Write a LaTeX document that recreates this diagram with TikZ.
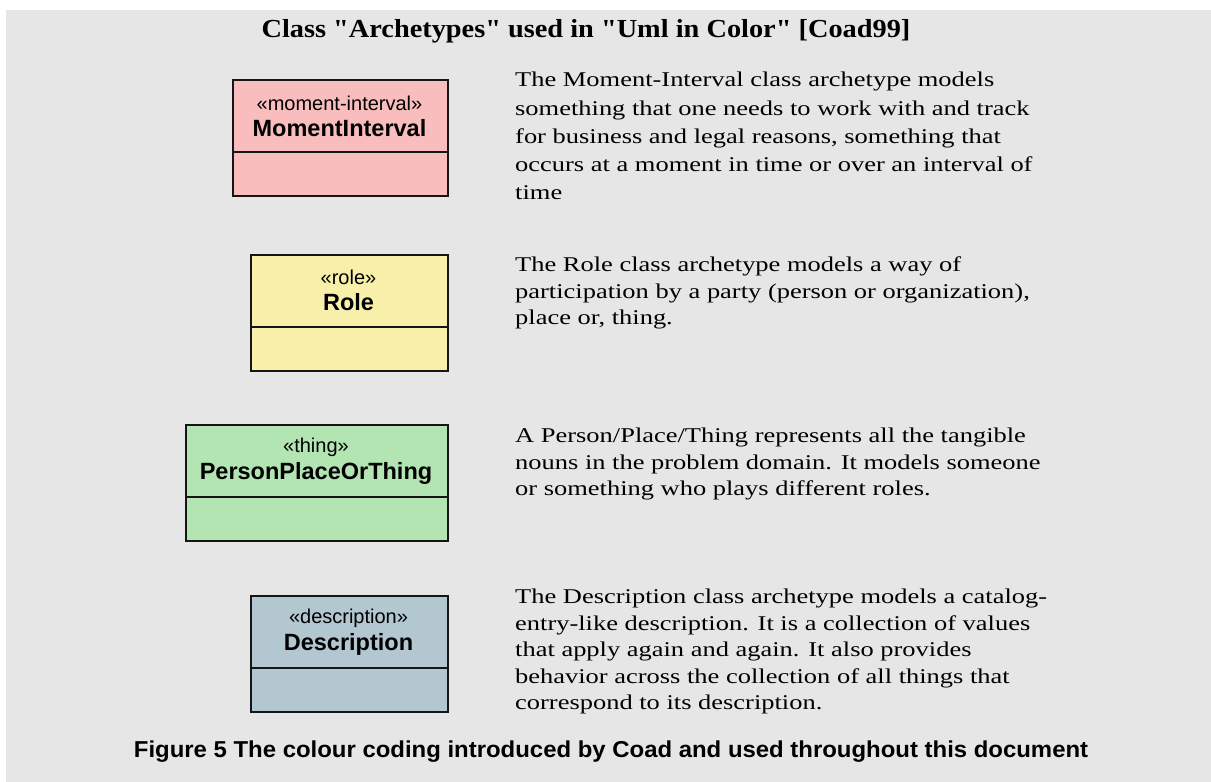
\documentclass[tikz,border=0pt]{standalone}
\usepackage{fontspec}
\setmainfont{Liberation Serif}
\newfontfamily\descfont{Liberation Serif}[FakeStretch=1.26]
\newfontfamily\titlefont{Liberation Serif}[FakeStretch=1.09]
\newfontfamily\boxfont{Liberation Sans}
\newfontfamily\capfont{Liberation Sans}[FakeStretch=1.04]
\definecolor{bgc}{HTML}{E6E6E6}
\definecolor{mic}{HTML}{F9BDBD}
\definecolor{rolec}{HTML}{F8F0AA}
\definecolor{thingc}{HTML}{B3E5B3}
\definecolor{descc}{HTML}{B2C7D0}
\definecolor{linec}{HTML}{151515}
\tikzset{
  umlbox/.style={draw=linec, line width=1.8pt, rectangle, inner sep=0pt, minimum height=116pt},
  stereo/.style={inner sep=0pt, font=\boxfont\fontsize{20}{22}\selectfont},
  cname/.style={inner sep=0pt, font=\boxfont\bfseries\fontsize{23.5}{26}\selectfont},
  desc/.style={inner sep=0pt, anchor=north west, align=left, font=\descfont\fontsize{21}{26.5}\selectfont},
  divider/.style={draw=linec, line width=1.8pt}
}
\begin{document}
\begin{tikzpicture}[x=1pt,y=-1pt]
\useasboundingbox (0,0) rectangle (1211,782);
\fill[white] (0,0) rectangle (1211,782);
\fill[bgc] (6,10) rectangle (1211,782);
\node[inner sep=0pt, font=\titlefont\bfseries\fontsize{26}{30}\selectfont] (title) at (586,31) {Class "Archetypes" used in "Uml in Color" [Coad99]};
% boxes
\node[umlbox, fill=mic, minimum width=215pt, anchor=north west] (mi) at (232,79) {};
\draw[divider] ([yshift=-73pt]mi.north west) -- ([yshift=-73pt]mi.north east);
\node[stereo] (mis) at (339.5,103) {«moment-interval»};
\node[cname] (min) at (339.5,128) {MomentInterval};
\node[umlbox, fill=rolec, minimum width=197pt, anchor=north west] (ro) at (250,254) {};
\draw[divider] ([yshift=-73pt]ro.north west) -- ([yshift=-73pt]ro.north east);
\node[stereo] (ros) at (348.5,277) {«role»};
\node[cname] (ron) at (348.5,302) {Role};
\node[umlbox, fill=thingc, minimum width=262pt, anchor=north west] (th) at (185,424) {};
\draw[divider] ([yshift=-73pt]th.north west) -- ([yshift=-73pt]th.north east);
\node[stereo] (ths) at (316,447) {«thing»};
\node[cname] (thn) at (316,473) {PersonPlaceOrThing};
\node[umlbox, fill=descc, minimum width=197pt, anchor=north west] (de) at (250,595) {};
\draw[divider] ([yshift=-73pt]de.north west) -- ([yshift=-73pt]de.north east);
\node[stereo] (des) at (348.5,618) {«description»};
\node[cname] (den) at (348.5,644) {Description};
% descriptions
\node[desc, font=\descfont\fontsize{21}{28.3}\selectfont] (d1) at (515,72) {The Moment-Interval class archetype models\\something that one needs to work with and track\\for business and legal reasons, something that\\occurs at a moment in time or over an interval of\\time};
\node[desc] (d2) at (515,257) {The Role class archetype models a way of\\participation by a party (person or organization),\\place or, thing.};
\node[desc] (d3) at (515,428) {A Person/Place/Thing represents all the tangible\\nouns in the problem domain. It models someone\\or something who plays different roles.};
\node[desc] (d4) at (515,589) {The Description class archetype models a catalog-\\entry-like description. It is a collection of values\\that apply again and again. It also provides\\behavior across the collection of all things that\\correspond to its description.};
\node[inner sep=0pt, font=\capfont\bfseries\fontsize{23}{26}\selectfont] (cap) at (611,752) {Figure 5 The colour coding introduced by Coad and used throughout this document};
\end{tikzpicture}
\end{document}
